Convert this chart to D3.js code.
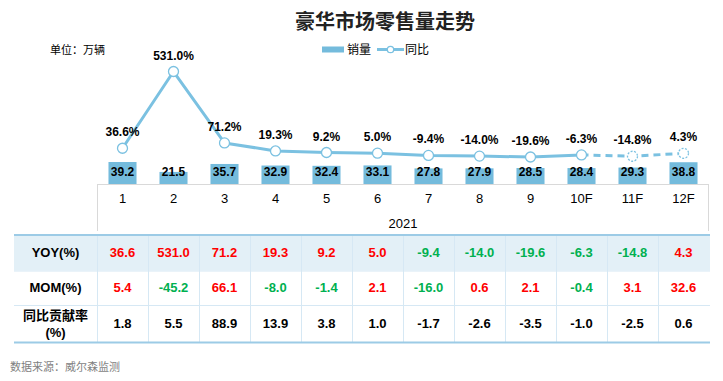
<!DOCTYPE html>
<html><head><meta charset="utf-8">
<script src="https://cdn.jsdelivr.net/npm/d3@7"></script>
<style>body{margin:0;background:#fff}svg{display:block}</style>
</head><body><svg id="c" width="723" height="381"></svg>
<script>
const categories = ["1","2","3","4","5","6","7","8","9","10F","11F","12F"];
const sales = [39.2,21.5,35.7,32.9,32.4,33.1,27.8,27.9,28.5,28.4,29.3,38.8];
const yoy = [36.6,531.0,71.2,19.3,9.2,5.0,-9.4,-14.0,-19.6,-6.3,-14.8,4.3];
const mom = [5.4,-45.2,66.1,-8.0,-1.4,2.1,-16.0,0.6,2.1,-0.4,3.1,32.6];
const contrib = [1.8,5.5,88.9,13.9,3.8,1.0,-1.7,-2.6,-3.5,-1.0,-2.5,0.6];
const forecastStart = 9; // index of "10F"
const yearLabel = "2021";
const rowHeaders = ["YOY(%)","MOM(%)","同比贡献率\n(%)"];

(function(){
const svg = d3.select("#c");
const FONT = "'Liberation Sans', Arial, sans-serif";
const CJK = "'Noto Sans CJK SC', sans-serif";
const barColor = "#74bbdc", lineColor = "#7bc1e1";
const pLeft = 97, pRight = 709, base = 184, pTop = 60;

const x = d3.scaleBand().domain(categories).range([pLeft, pRight]).paddingInner(0.45).paddingOuter(0.225);
const xc = d => x(d) + x.bandwidth()/2;
const yBar = d3.scaleLinear().domain([0, 221]).range([base, pTop]);
const yLine = d3.scaleLinear().domain([-200, 600]).range([base + 1, pTop + 0.8]);

// title
svg.append("text").attr("x", 385).attr("y", 29).attr("text-anchor","middle")
  .attr("font-family", CJK).attr("font-weight","bold").attr("font-size",20).attr("fill","#222").text("豪华市场零售量走势");
svg.append("text").attr("x", 50).attr("y", 54).attr("font-family", CJK).attr("font-size",11).attr("fill","#000").text("单位：万辆");

// legend
const lg = svg.append("g");
lg.append("rect").attr("x",322).attr("y",46.5).attr("width",22).attr("height",6).attr("fill",barColor);
lg.append("text").attr("x",347).attr("y",54).attr("font-family",CJK).attr("font-size",12).text("销量");
lg.append("line").attr("x1",377).attr("x2",404).attr("y1",49.5).attr("y2",49.5).attr("stroke",lineColor).attr("stroke-width",3);
lg.append("circle").attr("cx",390.5).attr("cy",49.5).attr("r",3.2).attr("fill","#fff").attr("stroke",lineColor).attr("stroke-width",1.3);
lg.append("text").attr("x",405).attr("y",54).attr("font-family",CJK).attr("font-size",12).text("同比");

// axis frame
svg.append("line").attr("x1",pLeft).attr("x2",pRight).attr("y1",base+0.5).attr("y2",base+0.5).attr("stroke","#d9d9d9");
svg.append("line").attr("x1",pLeft+0.5).attr("x2",pLeft+0.5).attr("y1",base).attr("y2",231).attr("stroke","#d9d9d9");
svg.append("line").attr("x1",pRight-0.5).attr("x2",pRight-0.5).attr("y1",base).attr("y2",231).attr("stroke","#d9d9d9");

// bars
svg.append("g").selectAll("rect").data(sales).join("rect")
  .attr("x",(d,i)=>x(categories[i])).attr("width",x.bandwidth())
  .attr("y",d=>yBar(d)).attr("height",d=>base-yBar(d)).attr("fill",barColor);
svg.append("g").selectAll("text").data(sales).join("text")
  .attr("x",(d,i)=>xc(categories[i])).attr("y",base-8)
  .attr("text-anchor","middle").attr("font-family",FONT).attr("font-weight","bold").attr("font-size",12)
  .text(d=>d.toFixed(1));

// x axis labels
const xAxis = d3.axisBottom(x).tickSize(0).tickPadding(10);
const gx = svg.append("g").attr("transform",`translate(0,${base})`).call(xAxis);
gx.select(".domain").remove();
gx.selectAll("text").attr("font-family",FONT).attr("font-size",13).attr("fill","#000");
svg.append("text").attr("x",(pLeft+pRight)/2).attr("y",228).attr("text-anchor","middle")
  .attr("font-family",FONT).attr("font-size",13).text(yearLabel);

// line
const pts = yoy.map((v,i)=>[xc(categories[i]), yLine(v)]);
const line = d3.line();
svg.append("path").attr("d", line(pts.slice(0, forecastStart+1))).attr("fill","none")
  .attr("stroke",lineColor).attr("stroke-width",3).attr("stroke-linejoin","round");
svg.append("path").attr("d", line(pts.slice(forecastStart))).attr("fill","none")
  .attr("stroke",lineColor).attr("stroke-width",3).attr("stroke-dasharray","7,5");
svg.append("g").selectAll("circle").data(pts).join("circle")
  .attr("cx",d=>d[0]).attr("cy",d=>d[1]).attr("r",5).attr("fill","#fff")
  .attr("stroke",lineColor).attr("stroke-width",1.3)
  .attr("stroke-dasharray",(d,i)=>i>forecastStart? "2,1.5":null);
svg.append("g").selectAll("text").data(yoy).join("text")
  .attr("x",(d,i)=>xc(categories[i])).attr("y",(d,i)=>yLine(d)-12)
  .attr("text-anchor","middle").attr("font-family",FONT).attr("font-weight","bold").attr("font-size",12)
  .text(d=>d.toFixed(1)+"%");

// table
const tTop = 235, rowH = [35.5, 34.5, 37.5], tLeft = 14;
const rowsY = [tTop, tTop+rowH[0], tTop+rowH[0]+rowH[1], tTop+rowH[0]+rowH[1]+rowH[2]];
svg.append("rect").attr("x",tLeft).attr("y",tTop).attr("width",pRight+1-tLeft).attr("height",rowH[0]).attr("fill","#e3f0f7");
const tbl = svg.append("g");
const vx = [pLeft].concat(categories.map(c=>x(c)-x.step()*x.paddingInner()/2 + x.step()));
vx.slice(0,-1).forEach(v=>tbl.append("line").attr("x1",v+0.5).attr("x2",v+0.5).attr("y1",tTop).attr("y2",rowsY[3]).attr("stroke","#d6e8f4"));
[rowsY[1],rowsY[2]].forEach(v=>tbl.append("line").attr("x1",tLeft).attr("x2",pRight+1).attr("y1",v+0.5).attr("y2",v+0.5).attr("stroke","#d6e8f4"));
tbl.append("line").attr("x1",tLeft).attr("x2",pRight+1).attr("y1",tTop).attr("y2",tTop).attr("stroke","#9ccbe6").attr("stroke-width",2);
tbl.append("line").attr("x1",tLeft).attr("x2",pRight+1).attr("y1",rowsY[3]).attr("y2",rowsY[3]).attr("stroke","#9ccbe6").attr("stroke-width",2);

const rowsData = [yoy, mom, contrib];
const colorFn = [v=>v>=0?"#ff0000":"#00b050", v=>v>=0?"#ff0000":"#00b050", ()=>"#000"];
rowsData.forEach((arr,r)=>{
  const cy = (rowsY[r]+rowsY[r+1])/2;
  tbl.append("g").selectAll("text").data(arr).join("text")
    .attr("x",(d,i)=>xc(categories[i])).attr("y",cy+4.5).attr("text-anchor","middle")
    .attr("font-family",FONT).attr("font-weight","bold").attr("font-size",13)
    .attr("fill",colorFn[r]).text(d=>d.toFixed(1));
  const lines = rowHeaders[r].split("\n");
  lines.forEach((t,k)=>{
    tbl.append("text").attr("x",(tLeft+pLeft)/2).attr("y",cy+4.5+(k-(lines.length-1)/2)*17)
      .attr("text-anchor","middle").attr("font-family", /[\u4e00-\u9fff]/.test(t)?CJK:FONT)
      .attr("font-weight","bold").attr("font-size",13).text(t);
  });
});

svg.append("text").attr("x",10).attr("y",371).attr("font-family",CJK).attr("font-size",11).attr("fill","#7f7f7f").text("数据来源：威尔森监测");
})();
</script></body></html>
